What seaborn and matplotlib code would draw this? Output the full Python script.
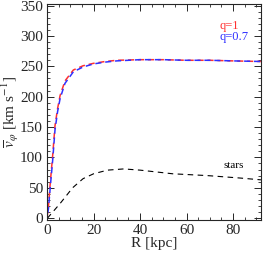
import numpy as np
import pandas as pd
import matplotlib
matplotlib.use("Agg")
import matplotlib.pyplot as plt
import seaborn as sns
from matplotlib.ticker import MultipleLocator

# values
R = [0, 0.6, 1.3, 2.4, 3.4, 4.5, 5.6, 7.7, 11.3, 15.5, 20, 25, 30, 40, 50, 60, 70, 80, 92]
v_q1 = [0, 20, 55, 103, 152, 180, 202, 226, 244, 251, 255, 258, 260, 261, 261, 260, 260, 259, 258]
v_q07 = [0, 16, 48, 95, 145, 175, 197, 222, 241, 249, 254, 257, 259, 261, 261, 260, 260, 259, 258]
R_stars = [0, 0.4, 5.6, 11, 15.5, 20, 26, 33, 40, 54, 69, 83, 92]
v_stars = [0, 1, 24, 50, 65, 73, 79, 81, 79, 73, 70, 66, 63]

df = pd.DataFrame({"R": R, "q=1": v_q1, "q=0.7": v_q07})
stars = pd.DataFrame({"R": R_stars, "v": v_stars})

sns.set_style("ticks")
plt.rcParams["font.family"] = ["Liberation Serif", "DejaVu Serif"]
plt.rcParams["mathtext.fontset"] = "stix"

fig, ax = plt.subplots(figsize=(2.66, 2.56), dpi=100)
sns.lineplot(data=df, x="R", y="q=1", ax=ax, color="#ff3030", linestyle=(0, (4, 2.5)), lw=1.1)
sns.lineplot(data=df, x="R", y="q=0.7", ax=ax, color="#3030ff", linestyle=(3, (4, 2.5)), lw=1.1)
sns.lineplot(data=stars, x="R", y="v", ax=ax, color="black", linestyle=(0, (5, 4)), lw=0.8)

ax.set_xlim(0, 92)
ax.set_ylim(-3, 353)
ax.xaxis.set_major_locator(MultipleLocator(20))
ax.xaxis.set_minor_locator(MultipleLocator(5))
ax.yaxis.set_major_locator(MultipleLocator(50))
ax.yaxis.set_minor_locator(MultipleLocator(10))
ax.tick_params(which="both", direction="in", top=True, right=True, labelsize=11)
ax.tick_params(which="major", length=5, width=0.7, pad=3)
ax.tick_params(which="minor", length=2.5, width=0.6)
for s in ax.spines.values():
    s.set_linewidth(0.8)

ax.set_xlabel("R [kpc]", fontsize=11, labelpad=0)
ax.set_ylabel(r"$\overline{v}_\varphi$ [km s$^{-1}$]", fontsize=11, labelpad=-1)

ax.text(74, 312, "q=1", color="#ff3030", ha="left", fontsize=9)
ax.text(74, 293, "q=0.7", color="#3030ff", ha="left", fontsize=9)
ax.text(76, 82, "stars", color="black", ha="left", fontsize=8)

fig.subplots_adjust(left=0.177, right=0.981, bottom=0.141, top=0.985)
fig.savefig("out.png", dpi=100)
